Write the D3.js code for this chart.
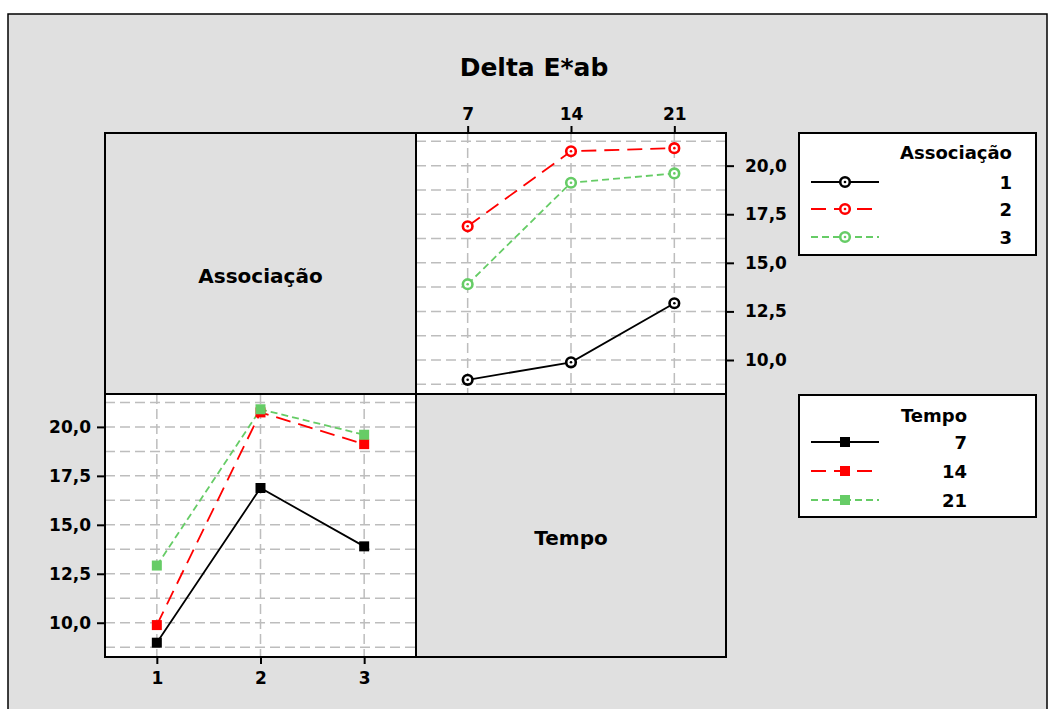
<!DOCTYPE html>
<html>
<head>
<meta charset="utf-8">
<script src="https://cdn.jsdelivr.net/npm/d3@7"></script>
<style>
  html, body { margin: 0; padding: 0; background: #ffffff; }
  svg { display: block; }
  text { font-family: "DejaVu Sans", sans-serif; font-weight: bold; fill: #000; }
</style>
</head>
<body>
<svg id="chart" width="1048" height="709"></svg>
<script>
// ---- Data ----
const title = "Delta E*ab";
const tempoLabels = ["7", "14", "21"];
const assocLabels = ["1", "2", "3"];
// mean Delta E*ab per Associação (rows) over Tempo 7, 14, 21
const assoc1 = [8.98, 9.88, 12.92];
const assoc2 = [16.88, 20.74, 20.9];
const assoc3 = [13.9, 19.12, 19.6];
const yTicks = [10.0, 12.5, 15.0, 17.5, 20.0];
const yGrid = [8.75, 10, 11.25, 12.5, 13.75, 15, 16.25, 17.5, 18.75, 20, 21.25];
const seriesColors = ["#000000", "#ff0000", "#66cc66"];
const seriesDash = [null, "15,8", "7,4"];

const assocSeries = [assoc1, assoc2, assoc3];
// Tempo series (transpose): value of each Associação at a given Tempo
const tempoSeries = tempoLabels.map((t, j) => assocSeries.map(s => s[j]));

const svg = d3.select("#chart");

// outer frame
svg.append("rect").attr("x", 8).attr("y", 14).attr("width", 1039).attr("height", 720)
  .attr("fill", "#e0e0e0").attr("stroke", "#000").attr("stroke-width", 1.5);

svg.append("text").attr("x", 534).attr("y", 67).attr("text-anchor", "middle")
  .attr("dominant-baseline", "central").style("font-size", "25px").text(title);

const X0 = 105, XM = 416, X1 = 726;
const Y0 = 133, YM = 394, Y1 = 657;

const fmt = v => d3.format(".1f")(v).replace(".", ",");

// ---- Panels ----
// top-left label panel
svg.append("rect").attr("x", X0).attr("y", Y0).attr("width", XM - X0).attr("height", YM - Y0)
  .attr("fill", "#e0e0e0").attr("stroke", "#000").attr("stroke-width", 2);
svg.append("text").attr("x", (X0 + XM) / 2).attr("y", 276).attr("text-anchor", "middle")
  .attr("dominant-baseline", "central").style("font-size", "20px").text("Associação");
// bottom-right label panel
svg.append("rect").attr("x", XM).attr("y", YM).attr("width", X1 - XM).attr("height", Y1 - YM)
  .attr("fill", "#e0e0e0").attr("stroke", "#000").attr("stroke-width", 2);
svg.append("text").attr("x", (XM + X1) / 2).attr("y", 538).attr("text-anchor", "middle")
  .attr("dominant-baseline", "central").style("font-size", "20px").text("Tempo");

function drawPanel(opts) {
  const { x0, x1, y0, y1, cats, series, marker, xAxisTop, yAxisRight } = opts;
  const g = svg.append("g");
  g.append("rect").attr("x", x0).attr("y", y0).attr("width", x1 - x0).attr("height", y1 - y0)
    .attr("fill", "#ffffff");
  const x = d3.scalePoint().domain(cats).range([x0, x1]).padding(0.5);
  const y = d3.scaleLinear().domain([8.25, 21.68]).range([y1, y0]);

  // grid
  g.selectAll(".hg").data(yGrid).enter().append("line")
    .attr("x1", x0).attr("x2", x1).attr("y1", d => y(d)).attr("y2", d => y(d))
    .attr("stroke", "#bdbdbd").attr("stroke-width", 1.5).attr("stroke-dasharray", "10,5");
  g.selectAll(".vg").data(cats).enter().append("line")
    .attr("x1", d => x(d)).attr("x2", d => x(d)).attr("y1", y0).attr("y2", y1)
    .attr("stroke", "#bdbdbd").attr("stroke-width", 1.5).attr("stroke-dasharray", "10,5");

  // lines
  const line = d3.line().x((d, i) => x(cats[i])).y(d => y(d));
  series.forEach((s, k) => {
    g.append("path").attr("d", line(s)).attr("fill", "none")
      .attr("stroke", seriesColors[k]).attr("stroke-width", 1.8)
      .attr("stroke-dasharray", seriesDash[k]);
  });
  series.forEach((s, k) => {
    s.forEach((v, i) => drawMarker(g, marker, x(cats[i]), y(v), seriesColors[k]));
  });

  // border
  g.append("rect").attr("x", x0).attr("y", y0).attr("width", x1 - x0).attr("height", y1 - y0)
    .attr("fill", "none").attr("stroke", "#000").attr("stroke-width", 2);

  // axes
  const xa = xAxisTop
    ? d3.axisTop(x).tickSize(7).tickPadding(6)
    : d3.axisBottom(x).tickSize(7).tickPadding(8);
  const xg = g.append("g").attr("transform", `translate(0,${xAxisTop ? y0 : y1})`).call(xa);
  const ya = yAxisRight
    ? d3.axisRight(y).tickValues(yTicks).tickFormat(fmt).tickSize(8).tickPadding(11)
    : d3.axisLeft(y).tickValues(yTicks).tickFormat(fmt).tickSize(8).tickPadding(6);
  const yg = g.append("g").attr("transform", `translate(${yAxisRight ? x1 : x0},0)`).call(ya);
  [xg, yg].forEach(a => {
    a.select(".domain").remove();
    a.selectAll(".tick line").attr("stroke", "#000").attr("stroke-width", 2);
    a.selectAll(".tick text").style("font-size", "17px")
      .style("font-family", "DejaVu Sans, sans-serif").style("font-weight", "bold").attr("fill", "#000");
  });
}

function drawMarker(g, type, cx, cy, color) {
  if (type === "circle") {
    g.append("circle").attr("cx", cx).attr("cy", cy).attr("r", 4.8)
      .attr("fill", "#ffffff").attr("stroke", color).attr("stroke-width", 2.6);
    g.append("circle").attr("cx", cx).attr("cy", cy).attr("r", 1.3).attr("fill", color);
  } else {
    g.append("rect").attr("x", cx - 5).attr("y", cy - 5).attr("width", 10).attr("height", 10)
      .attr("fill", color);
  }
}

// top-right: lines per Associação across Tempo
drawPanel({ x0: XM, x1: X1, y0: Y0, y1: YM, cats: tempoLabels, series: assocSeries,
  marker: "circle", xAxisTop: true, yAxisRight: true });
// bottom-left: lines per Tempo across Associação
drawPanel({ x0: X0, x1: XM, y0: YM, y1: Y1, cats: assocLabels, series: tempoSeries,
  marker: "square", xAxisTop: false, yAxisRight: false });

// ---- Legends ----
function drawLegend(opts) {
  const { top, bottom, titleText, titleY, rowsY, labels, labelRight, marker } = opts;
  const g = svg.append("g");
  g.append("rect").attr("x", 799).attr("y", top).attr("width", 1036 - 799).attr("height", bottom - top)
    .attr("fill", "#ffffff").attr("stroke", "#000").attr("stroke-width", 2);
  g.append("text").attr("x", labelRight).attr("y", titleY).attr("text-anchor", "end")
    .attr("dominant-baseline", "central").style("font-size", "18px").text(titleText);
  labels.forEach((lab, k) => {
    const yy = rowsY[k];
    g.append("line").attr("x1", 811).attr("x2", 879).attr("y1", yy).attr("y2", yy)
      .attr("stroke", seriesColors[k]).attr("stroke-width", 1.8).attr("stroke-dasharray", seriesDash[k]);
    drawMarker(g, marker, 845, yy, seriesColors[k]);
    g.append("text").attr("x", labelRight).attr("y", yy).attr("text-anchor", "end")
      .attr("dominant-baseline", "central").style("font-size", "18px").text(lab);
  });
}

drawLegend({ top: 133, bottom: 255, titleText: "Associação", titleY: 152,
  rowsY: [182, 209, 237], labels: assocLabels, labelRight: 1012, marker: "circle" });
drawLegend({ top: 395, bottom: 517, titleText: "Tempo", titleY: 415,
  rowsY: [442, 471, 500], labels: tempoLabels, labelRight: 967, marker: "square" });
</script>
</body>
</html>
